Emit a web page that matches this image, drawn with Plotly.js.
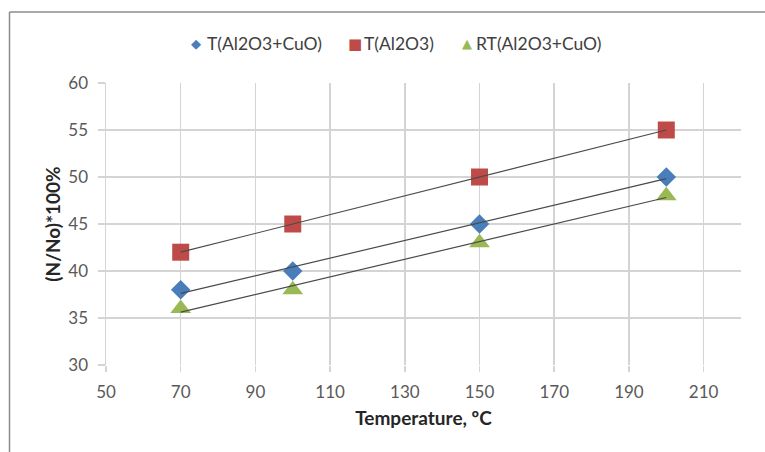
<!DOCTYPE html>
<html>
<head>
<meta charset="utf-8">
<script src="https://cdn.plot.ly/plotly-3.0.1.min.js"></script>
<style>html,body{margin:0;padding:0;background:#fff}#chart{width:765px;height:452px}</style>
</head>
<body>
<div id="chart"></div>
<script>
var temperature = [70, 100, 150, 200];
var tAl2O3CuO = [38, 40, 45, 50];
var tAl2O3 = [42, 45, 50, 55];
var rtAl2O3CuO = [36, 38, 43, 48];
var seriesNames = ['T(Al2O3+CuO)', 'T(Al2O3)', 'RT(Al2O3+CuO)'];
var xTicks = [50, 70, 90, 110, 130, 150, 170, 190, 210];
var yTicks = [30, 35, 40, 45, 50, 55, 60];

function linFit(xs, ys) {
  var n = xs.length, mx = 0, my = 0;
  for (var i = 0; i < n; i++) { mx += xs[i]; my += ys[i]; }
  mx /= n; my /= n;
  var sxy = 0, sxx = 0;
  for (var j = 0; j < n; j++) { sxy += (xs[j]-mx)*(ys[j]-my); sxx += (xs[j]-mx)*(xs[j]-mx); }
  var b = sxy / sxx, a = my - b*mx;
  var x0 = Math.min.apply(null, xs), x1 = Math.max.apply(null, xs);
  return {x: [x0, x1], y: [a + b*x0, a + b*x1]};
}

var series = [
  {y: tAl2O3CuO, name: seriesNames[0], symbol: 'diamond', glyph: '\u25C6', color: '#4a7ebb', size: 15},
  {y: tAl2O3, name: seriesNames[1], symbol: 'square', glyph: '\u25A0', color: '#be4b48', size: 17},
  {y: rtAl2O3CuO, name: seriesNames[2], symbol: 'triangle-up', glyph: '\u25B2', color: '#98b954', size: 18}
];

var traces = [];
series.forEach(function(s) {
  traces.push({
    type: 'scatter', mode: 'markers', x: temperature, y: s.y, name: s.name, showlegend: false,
    marker: {symbol: s.symbol, color: s.color, size: s.size, line: {width: 0}}
  });
});
series.forEach(function(s) {
  var f = linFit(temperature, s.y);
  traces.push({
    type: 'scatter', mode: 'lines', x: f.x, y: f.y, showlegend: false, hoverinfo: 'skip',
    line: {color: '#4a4a4a', width: 1.2}
  });
});

var L = 106, R = 741, T = 83, B = 365, W = R - L, H = B - T;
function px(x) { return (x - L) / W; }
function py(y) { return (B - y) / H; }

// legend drawn as annotations (symbol + label)
var legendSymX = [196, 355, 467];
var legendTextX = [205, 362, 474];
var legendY = 44;
var annotations = [];
series.forEach(function(s, i) {
  annotations.push({
    xref: 'paper', yref: 'paper', x: px(legendSymX[i]), y: py(legendY), xanchor: 'center', yanchor: 'middle',
    showarrow: false, text: s.glyph,
    font: {family: 'DejaVu Sans', size: (s.symbol === 'square' ? 15 : 13), color: s.color}
  });
  annotations.push({
    xref: 'paper', yref: 'paper', x: px(legendTextX[i]), y: py(legendY), xanchor: 'left', yanchor: 'middle',
    showarrow: false, text: s.name,
    font: {size: 17.5, color: '#404040'}
  });
});

var layout = {
  width: 765, height: 452,
  margin: {l: L, r: 765 - R, t: T, b: 452 - B},
  paper_bgcolor: '#ffffff', plot_bgcolor: '#ffffff',
  font: {family: 'Lato, "Open Sans", sans-serif', color: '#595959', size: 17},
  showlegend: false,
  annotations: annotations,
  xaxis: {
    range: [50, 220], tickvals: xTicks, ticktext: xTicks.map(String),
    showgrid: true, gridcolor: '#d4d4d4', gridwidth: 1.5,
    zeroline: false, showline: false,
    ticks: 'outside', ticklen: 6, tickcolor: '#d4d4d4', tickwidth: 1.5,
    ticklabelstandoff: 6,
    tickfont: {size: 17, color: '#595959'},
    title: {text: 'Temperature, ºC', font: {size: 19, color: '#262626', weight: 'bold'}, standoff: 10}
  },
  yaxis: {
    range: [30, 60], tickvals: yTicks, ticktext: yTicks.map(String),
    showgrid: true, gridcolor: '#d4d4d4', gridwidth: 1.5,
    zeroline: false, showline: true, linecolor: '#d4d4d4', linewidth: 1.5,
    ticks: 'outside', ticklen: 7, tickcolor: '#d4d4d4', tickwidth: 1.5,
    ticklabelstandoff: 6,
    tickfont: {size: 17, color: '#595959'},
    title: {text: '(N/No)*100%', font: {size: 19, color: '#262626', weight: 'bold'}, standoff: 2}
  },
  shapes: [
    {type: 'line', xref: 'paper', yref: 'paper', x0: px(9.5), x1: px(770), y0: py(12), y1: py(12), line: {color: '#8c8c8c', width: 1.5}},
    {type: 'line', xref: 'paper', yref: 'paper', x0: px(9.5), x1: px(9.5), y0: py(12), y1: py(460), line: {color: '#8c8c8c', width: 1.5}}
  ]
};

Plotly.newPlot('chart', traces, layout, {staticPlot: true, displayModeBar: false});
</script>
</body>
</html>
